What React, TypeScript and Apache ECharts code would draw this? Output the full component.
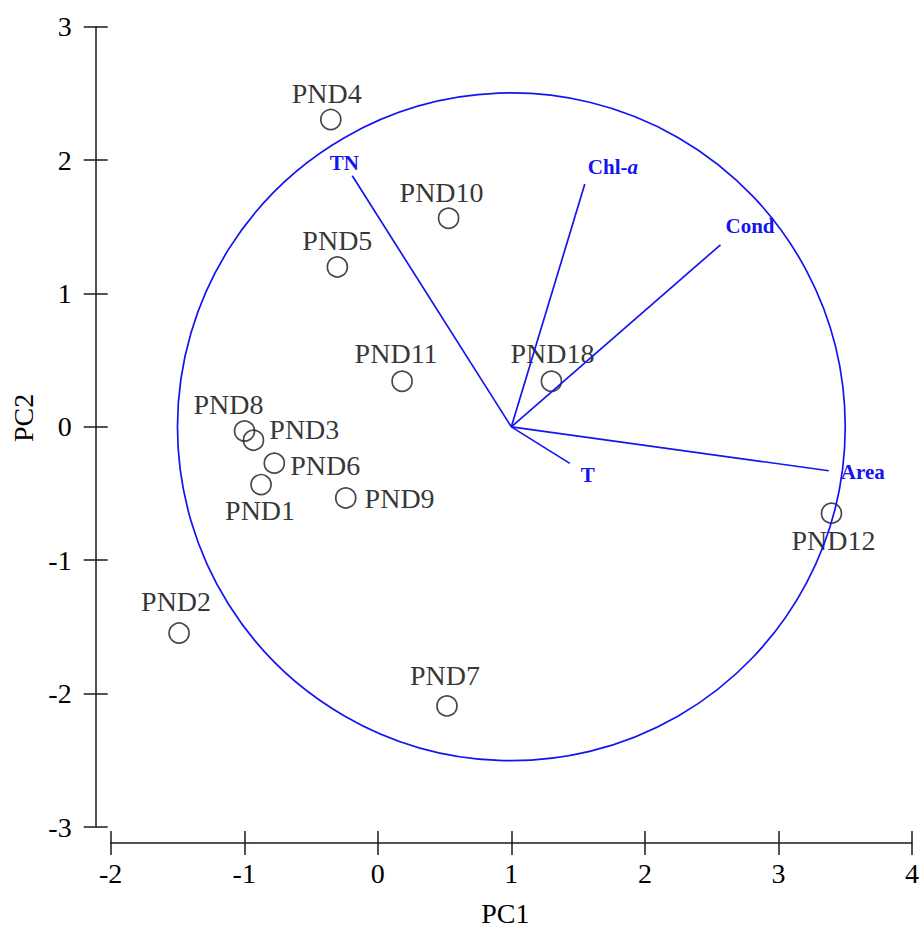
import React, { useEffect, useRef } from 'react';
import * as echarts from 'echarts';

// ---- data ----
const SITE_NAMES = ['PND1', 'PND2', 'PND3', 'PND4', 'PND5', 'PND6', 'PND7', 'PND8', 'PND9', 'PND10', 'PND11', 'PND12', 'PND18'];
const PC1_SCORES = [-0.874, -1.488, -0.931, -0.352, -0.303, -0.775, 0.518, -0.998, -0.24, 0.53, 0.182, 3.397, 1.3];
const PC2_SCORES = [-0.433, -1.546, -0.1, 2.304, 1.199, -0.272, -2.092, -0.031, -0.533, 1.564, 0.342, -0.647, 0.342];

const VARIABLE_NAMES = ['TN', 'Chl-a', 'Cond', 'Area', 'T'];
const VARIABLE_PC1 = [-0.191, 1.55, 2.566, 3.377, 1.438];
const VARIABLE_PC2 = [1.882, 1.82, 1.365, -0.329, -0.274];
const VECTOR_ORIGIN = [1, 0];
const CIRCLE_RADIUS = 2.5;

const X_MIN = -2;
const X_MAX = 4;
const Y_MIN = -3;
const Y_MAX = 3;
const TICK_STEP = 1;

// ---- styles ----
const SERIF = "'Liberation Serif', 'Times New Roman', serif";
const BLUE = '#1414f0';
const INK = '#000000';
const LINE_INK = '#1a1a1a';

const SITE_LABEL_STYLE: Record<string, { position: string; offset: [number, number]; distance?: number }> = {
  PND1: { position: 'inside', offset: [-1, 26] },
  PND2: { position: 'inside', offset: [-3, -32] },
  PND3: { position: 'right', offset: [0, -11], distance: 5 },
  PND4: { position: 'inside', offset: [-4, -26] },
  PND5: { position: 'inside', offset: [0, -26] },
  PND6: { position: 'right', offset: [0, 2], distance: 5 },
  PND7: { position: 'inside', offset: [-2, -30] },
  PND8: { position: 'inside', offset: [-16, -26] },
  PND9: { position: 'right', offset: [0, 1], distance: 8 },
  PND10: { position: 'inside', offset: [-7, -26] },
  PND11: { position: 'inside', offset: [-6, -28] },
  PND12: { position: 'inside', offset: [2, 27] },
  PND18: { position: 'inside', offset: [1, -28] },
};

const VARIABLE_LABEL_STYLE: Record<string, { dx: number; dy: number; align: string }> = {
  TN: { dx: -8, dy: -13, align: 'center' },
  'Chl-a': { dx: 3, dy: -17, align: 'left' },
  Cond: { dx: 5, dy: -19, align: 'left' },
  Area: { dx: 12, dy: 1, align: 'left' },
  T: { dx: 11, dy: 12, align: 'left' },
};

const axisLineStyle = { color: LINE_INK, width: 1.5 };

function makeX(primary: boolean): any {
  return {
    type: 'value',
    min: X_MIN,
    max: X_MAX,
    interval: TICK_STEP,
    position: 'bottom',
    offset: 16,
    axisLine: { show: primary, onZero: false, lineStyle: axisLineStyle },
    axisTick: { show: true, inside: !primary, length: 12, lineStyle: axisLineStyle },
    axisLabel: { show: primary, color: INK, fontSize: 28, fontFamily: SERIF, margin: 16 },
    splitLine: { show: false },
    ...(primary
      ? {
          name: 'PC1',
          nameLocation: 'middle',
          nameGap: 56,
          nameTextStyle: { color: INK, fontSize: 28, fontFamily: SERIF, padding: [0, 12, 0, 0] },
        }
      : {}),
  };
}

function makeY(primary: boolean): any {
  return {
    type: 'value',
    min: Y_MIN,
    max: Y_MAX,
    interval: TICK_STEP,
    position: 'left',
    offset: 15,
    axisLine: { show: primary, onZero: false, lineStyle: axisLineStyle },
    axisTick: { show: true, inside: !primary, length: 12, lineStyle: axisLineStyle },
    axisLabel: { show: primary, color: INK, fontSize: 28, fontFamily: SERIF, margin: 24 },
    splitLine: { show: false },
    ...(primary
      ? {
          name: 'PC2',
          nameLocation: 'middle',
          nameGap: 53,
          nameTextStyle: { color: INK, fontSize: 28, fontFamily: SERIF, padding: [0, 0, 0, 18] },
        }
      : {}),
  };
}

export default function App() {
  const ref = useRef<HTMLDivElement>(null);

  useEffect(() => {
    if (!ref.current) return;
    const chart = echarts.init(ref.current, undefined, { renderer: 'svg' });

    const siteData = SITE_NAMES.map((name, i) => {
      const ls = SITE_LABEL_STYLE[name];
      return {
        name,
        value: [PC1_SCORES[i], PC2_SCORES[i]],
        label: { position: ls.position, offset: ls.offset, distance: ls.distance ?? 5 },
      };
    });

    const option: any = {
      animation: false,
      backgroundColor: '#ffffff',
      grid: { left: 110.7, right: 7, top: 26.7, bottom: 100.3, containLabel: false },
      xAxis: [makeX(true), makeX(false)],
      yAxis: [makeY(true), makeY(false)],
      series: [
        {
          type: 'scatter',
          name: 'sites',
          xAxisIndex: 0,
          yAxisIndex: 0,
          z: 2,
          symbol: 'circle',
          symbolSize: 20,
          itemStyle: { color: 'rgba(255,255,255,0)', borderColor: LINE_INK, borderWidth: 1.7 },
          label: {
            show: true,
            formatter: '{b}',
            color: INK,
            fontSize: 28,
            fontFamily: SERIF,
          },
          emphasis: { disabled: true },
          data: siteData,
        },
        {
          type: 'custom',
          name: 'circle',
          xAxisIndex: 0,
          yAxisIndex: 0,
          z: 3,
          silent: true,
          data: [[VECTOR_ORIGIN[0], VECTOR_ORIGIN[1], CIRCLE_RADIUS]],
          renderItem: (params: any, api: any) => {
            const c = api.coord([api.value(0), api.value(1)]);
            const r = api.size([api.value(2), 0])[0];
            return {
              type: 'circle',
              shape: { cx: c[0], cy: c[1], r },
              style: { fill: 'none', stroke: BLUE, lineWidth: 1.7 },
            };
          },
        },
        {
          type: 'custom',
          name: 'variables',
          xAxisIndex: 0,
          yAxisIndex: 0,
          z: 4,
          silent: true,
          data: VARIABLE_NAMES.map((n, i) => ({ name: n, value: [VARIABLE_PC1[i], VARIABLE_PC2[i]] })),
          renderItem: (params: any, api: any) => {
            const name = VARIABLE_NAMES[params.dataIndex];
            const o = api.coord(VECTOR_ORIGIN);
            const e = api.coord([api.value(0), api.value(1)]);
            const ls = VARIABLE_LABEL_STYLE[name];
            const base = { fontSize: 21, fontWeight: 'bold', fontFamily: SERIF, fill: BLUE };
            const text = name === 'Chl-a' ? '{r|Chl-}{i|a}' : '{r|' + name + '}';
            return {
              type: 'group',
              children: [
                {
                  type: 'line',
                  shape: { x1: o[0], y1: o[1], x2: e[0], y2: e[1] },
                  style: { stroke: BLUE, lineWidth: 1.7 },
                },
                {
                  type: 'text',
                  x: e[0] + ls.dx,
                  y: e[1] + ls.dy,
                  style: {
                    text,
                    align: ls.align,
                    verticalAlign: 'middle',
                    ...base,
                    rich: {
                      r: { ...base },
                      i: { ...base, fontStyle: 'italic' },
                    },
                  },
                },
              ],
            };
          },
        },
      ],
    };

    chart.setOption(option);
    return () => chart.dispose();
  }, []);

  return (
    <div
      ref={ref}
      style={{ position: 'fixed', left: 0, top: 0, width: 922, height: 932, background: '#fff' }}
    />
  );
}
